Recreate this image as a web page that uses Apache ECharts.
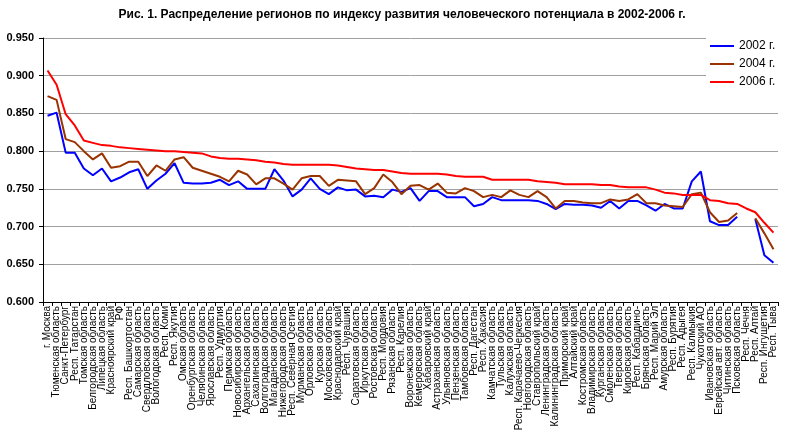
<!DOCTYPE html>
<html>
<head>
<meta charset="utf-8">
<script src="https://cdn.jsdelivr.net/npm/echarts@6/dist/echarts.min.js"></script>
<style>
body{margin:0;background:#fff;}
#hdiChart{width:804px;height:435px;}
</style>
</head>
<body>
<div id="hdiChart"></div>
<script>
// regions, ordered as on the chart
var regions = ['г. Москва','Тюменская область','Санкт-Петербург','Респ. Татарстан','Томская область',
  'Белгородская область','Липецкая область','Красноярский край','РФ','Респ. Башкортостан',
  'Самарская область','Свердловская область','Вологодская область','Респ. Коми','Респ. Якутия',
  'Омская область','Оренбургская область','Челябинская область','Ярославская область','Респ. Удмуртия',
  'Пермская область','Новосибирская область','Архангельская область','Сахалинская область','Волгоградская область',
  'Магаданская область','Нижегородская область','Респ. Северная Осетия','Мурманская область','Орловская область',
  'Курская область','Московская область','Краснодарский край','Респ. Чувашия','Саратовская область',
  'Иркутская область','Ростовская область','Респ. Мордовия','Рязанская область','Респ. Карелия',
  'Воронежская область','Кемеровская область','Хабаровский край','Астраханская область','Ульяновская область',
  'Пензенская область','Тамбовская область','Респ. Дагестан','Респ. Хакасия','Камчатская область',
  'Тульская область','Калужская область','Респ. Карачаево-Черкесия','Новгородская область','Ставропольский край',
  'Ленинградская область','Калининградская область','Приморский край','Алтайский край','Костромская область',
  'Владимирская область','Курганская область','Смоленская область','Тверская область','Кировская область',
  'Респ. Кабардино-','Брянская область','Респ. Марий Эл','Амурская область','Респ. Бурятия',
  'Респ. Адыгея','Респ. Калмыкия','Чукотский АО','Ивановская область','Еврейская авт. область',
  'Читинская область','Псковская область','Респ. Чечня','Респ. Алтай','Респ. Ингушетия',
  'Респ. Тыва'];

var hdi2002 = [0.847,0.851,0.798,0.798,0.777,0.768,0.777,0.760,0.765,0.772,
  0.776,0.750,0.761,0.770,0.784,0.758,0.757,0.757,0.758,0.762,
  0.755,0.760,0.750,0.750,0.750,0.776,0.761,0.740,0.749,0.764,
  0.750,0.743,0.752,0.748,0.749,0.740,0.741,0.739,0.749,0.746,
  0.751,0.734,0.747,0.747,0.739,0.739,0.739,0.727,0.730,0.739,
  0.735,0.735,0.735,0.735,0.734,0.730,0.723,0.730,0.729,0.729,
  0.728,0.725,0.734,0.724,0.734,0.734,0.728,0.721,0.730,0.724,
  0.724,0.760,0.773,0.707,0.702,0.702,0.713,null,0.710,0.662,
  0.652];

var hdi2004 = [0.873,0.868,0.816,0.812,0.800,0.789,0.797,0.778,0.780,0.786,
  0.786,0.767,0.781,0.774,0.789,0.792,0.778,0.774,0.770,0.766,
  0.760,0.774,0.769,0.756,0.764,0.764,0.757,0.749,0.764,0.767,
  0.767,0.754,0.762,0.761,0.760,0.743,0.751,0.769,0.759,0.743,
  0.754,0.755,0.749,0.757,0.745,0.744,0.751,0.747,0.739,0.742,
  0.739,0.748,0.742,0.739,0.747,0.739,0.724,0.734,0.734,0.732,
  0.731,0.731,0.736,0.734,0.736,0.743,0.731,0.731,0.728,0.727,
  0.726,0.743,0.745,0.719,0.706,0.708,0.718,null,0.711,0.691,
  0.670];

var hdi2006 = [0.907,0.888,0.849,0.834,0.814,0.811,0.808,0.807,0.805,0.804,
  0.803,0.802,0.801,0.800,0.800,0.799,0.798,0.797,0.793,0.791,
  0.790,0.790,0.789,0.788,0.786,0.785,0.783,0.782,0.782,0.782,
  0.782,0.782,0.781,0.779,0.777,0.776,0.775,0.775,0.773,0.771,
  0.770,0.770,0.770,0.770,0.769,0.767,0.766,0.766,0.766,0.762,
  0.762,0.762,0.762,0.762,0.760,0.759,0.758,0.756,0.756,0.756,
  0.756,0.755,0.755,0.753,0.752,0.752,0.752,0.749,0.745,0.744,
  0.742,0.742,0.742,0.735,0.734,0.731,0.730,0.724,0.719,0.705,
  0.692];

var seriesNames = ['2002 г.','2004 г.','2006 г.'];
var seriesColors = ['#0000ff','#993300','#ff0000'];

var font = '"Liberation Sans", Arial, sans-serif';

function initChart(){
  var options = {};
  options.animation = false;
  options.title = {
    text: 'Рис. 1. Распределение регионов по индексу развития человеческого потенциала в 2002-2006 г.',
    left: 'center',
    top: 4,
    textStyle: {fontFamily: font, fontSize: 12, fontWeight: 'bold', color: '#000'}
  };
  options.grid = {left: 43, right: 26, top: 38, bottom: 133, containLabel: false};
  options.legend = {
    orient: 'vertical',
    left: 706,
    top: 36,
    padding: [4, 4, 4, 4],
    backgroundColor: '#fff',
    icon: 'rect',
    itemWidth: 24,
    itemHeight: 2,
    itemGap: 6,
    textStyle: {fontFamily: font, fontSize: 12, color: '#000'},
    data: seriesNames
  };
  options.xAxis = {
    type: 'category',
    data: regions,
    boundaryGap: true,
    axisLine: {lineStyle: {color: '#000', width: 1}},
    axisTick: {show: true, length: 4, lineStyle: {color: '#000'}},
    axisLabel: {interval: 0, rotate: 90, margin: 4, fontFamily: font, fontSize: 10, color: '#000'}
  };
  options.yAxis = {
    type: 'value',
    min: 0.6,
    max: 0.95,
    interval: 0.05,
    axisLine: {show: true, lineStyle: {color: '#000', width: 1}},
    axisTick: {show: true, length: 4, lineStyle: {color: '#000'}},
    splitLine: {lineStyle: {color: '#a0a0a0', width: 1}},
    axisLabel: {
      margin: 9,
      fontFamily: font, fontSize: 11, fontWeight: 'bold', color: '#000',
      formatter: function(v){ return v.toFixed(3); }
    }
  };
  var allData = [hdi2002, hdi2004, hdi2006];
  options.series = [];
  for (var i = 0; i < allData.length; i++) {
    options.series.push({
      name: seriesNames[i],
      type: 'line',
      data: allData[i],
      symbol: 'none',
      connectNulls: false,
      color: seriesColors[i],
      lineStyle: {color: seriesColors[i], width: 2}
    });
  }
  var myChart = echarts.init(document.getElementById('hdiChart'));
  myChart.setOption(options);
}
initChart();
</script>
</body>
</html>
